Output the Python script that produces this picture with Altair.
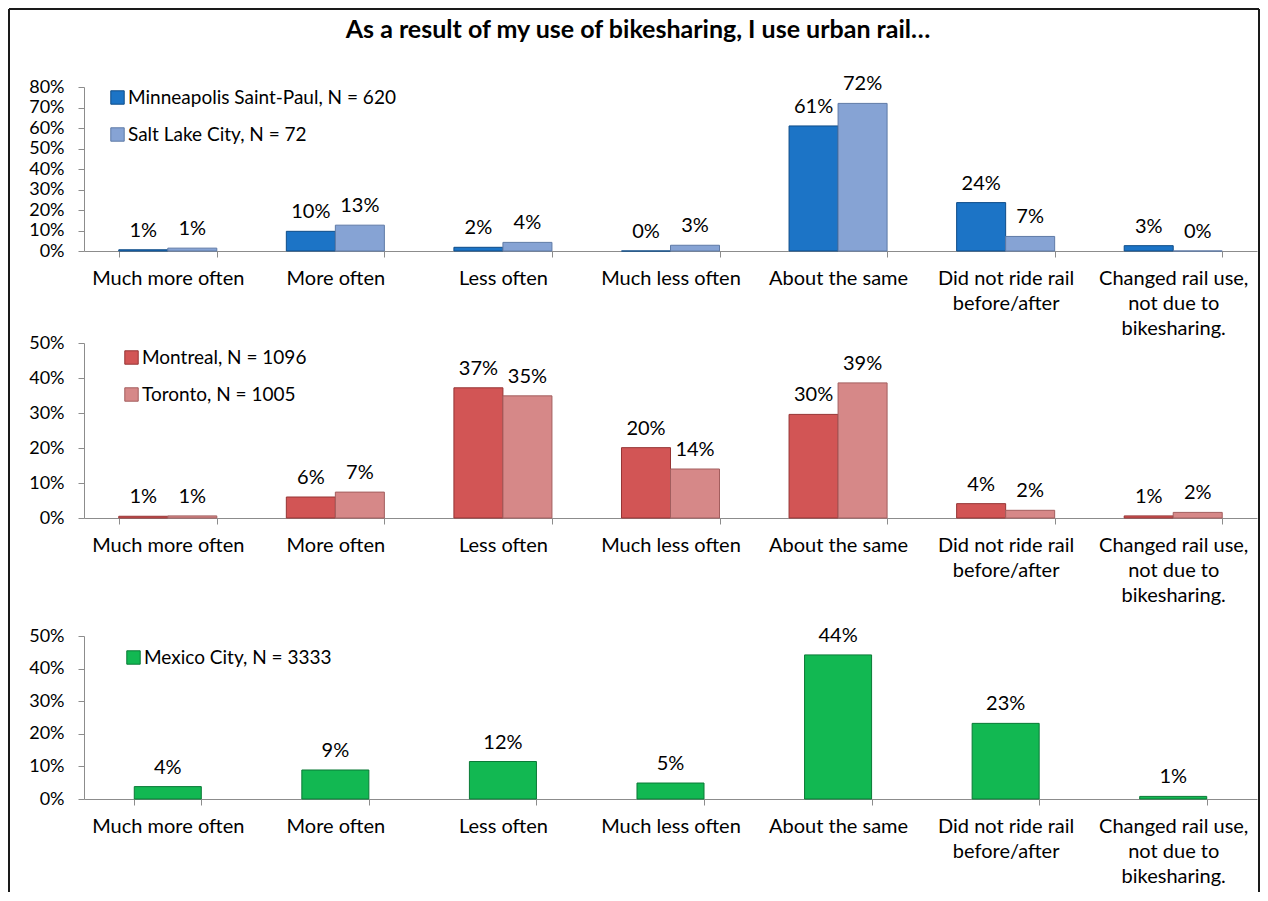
import altair as alt
import pandas as pd

FONT = "Lato"

categories = [
    "Much more often",
    "More often",
    "Less often",
    "Much less often",
    "About the same",
    "Did not ride rail|before/after",
    "Changed rail use,|not due to|bikesharing.",
]

title_text = "As a result of my use of bikesharing, I use urban rail…"

# Panel 1
p1_series = ["Minneapolis Saint-Paul, N = 620", "Salt Lake City, N = 72"]
minneapolis = [0.6, 9.6, 1.8, 0.0, 61.0, 23.6, 2.6]
salt_lake = [1.4, 12.6, 4.2, 2.8, 72.0, 7.1, 0.0]
p1_colors = ["#1C74C6", "#86A3D4"]
p1_strokes = ["#0E4C88", "#5E7AA6"]

# Panel 2
p2_series = ["Montreal, N = 1096", "Toronto, N = 1005"]
montreal = [0.5, 6.0, 37.2, 20.1, 29.6, 4.1, 0.6]
toronto = [0.6, 7.4, 34.9, 14.0, 38.6, 2.2, 1.6]
p2_colors = ["#D25555", "#D68888"]
p2_strokes = ["#963434", "#A35E5E"]

# Panel 3
p3_series = ["Mexico City, N = 3333"]
mexico = [3.8, 8.9, 11.5, 4.9, 44.2, 23.2, 0.8]
p3_colors = ["#12B852"]
p3_strokes = ["#0A7A36"]

PLOT_W = 1173


def long_df(series_names, series_values):
    rows = []
    for name, vals in zip(series_names, series_values):
        for cat, v in zip(categories, vals):
            rows.append({"category": cat, "series": name, "value": v})
    return pd.DataFrame(rows)


def panel(df, series, colors, strokes, ymax, height, plot_h, pad_inner,
          legend_x, legend_y, extra_layers=()):
    x = alt.X(
        "category:N",
        sort=categories,
        scale=alt.Scale(paddingInner=pad_inner, paddingOuter=pad_inner / 2),
        axis=alt.Axis(
            title=None,
            labelAngle=0,
            labelExpr="split(datum.label, '|')",
            labelLineHeight=25,
            labelBaseline="top",
            labelPadding=11,
            tickBand="extent",
            tickSize=6,
            offset=plot_h - height,
            labelFontSize=20,
        ),
    )
    y = alt.Y(
        "value:Q",
        scale=alt.Scale(domain=[0, ymax], nice=False, range=[plot_h, 0]),
        axis=alt.Axis(
            title=None,
            values=list(range(0, ymax + 1, 10)),
            labelExpr="datum.value + '%'",
            tickSize=6,
            labelPadding=14,
            labelFontSize=18,
        ),
    )
    xo = alt.XOffset("series:N", sort=series, scale=alt.Scale(paddingInner=0, paddingOuter=0))
    bars = alt.Chart(df).mark_bar(strokeWidth=1).encode(
        x=x,
        xOffset=xo,
        y=y,
        color=alt.Color(
            "series:N",
            sort=series,
            scale=alt.Scale(domain=series, range=colors),
            legend=alt.Legend(
                title=None,
                orient="none",
                legendX=legend_x,
                legendY=legend_y,
                symbolType="square",
                symbolSize=180,
                symbolStrokeWidth=1,
                labelFontSize=19,
                labelFont=FONT,
                labelColor="#000000",
                labelOffset=1,
                labelLimit=0,
                rowPadding=17,
                padding=0,
            ),
        ),
        stroke=alt.Stroke(
            "series:N",
            sort=series,
            scale=alt.Scale(domain=series, range=strokes),
            legend=None,
        ),
    )
    labels = alt.Chart(df).transform_calculate(
        lbl="format(datum.value, '.0f') + '%'"
    ).mark_text(
        baseline="bottom", dy=-9, fontSize=20, font=FONT, color="#000000"
    ).encode(x=x, xOffset=xo, y=y, text="lbl:N")
    return alt.layer(bars, labels, *extra_layers).properties(width=PLOT_W, height=height)


one = pd.DataFrame({"t": [title_text]})
title_layer = alt.Chart(one).mark_text(
    fontSize=25, fontWeight="bold", font=FONT, color="#000000", align="center", baseline="middle"
).encode(x=alt.value(554), y=alt.value(-57), text="t:N")

BL, BR, BT, BB = -75, 1175, -78, 805
border_left = alt.Chart(one).mark_rule(color="#1a1a1a", strokeWidth=2).encode(
    x=alt.value(BL), y=alt.value(BT), y2=alt.value(BB))
border_top = alt.Chart(one).mark_rule(color="#1a1a1a", strokeWidth=2).encode(
    x=alt.value(BL), x2=alt.value(BR), y=alt.value(BT))
border_right = alt.Chart(one).mark_rule(color="#1a1a1a", strokeWidth=2).encode(
    x=alt.value(BR), y=alt.value(BT), y2=alt.value(BB))

p1 = panel(long_df(p1_series, [minneapolis, salt_lake]), p1_series, p1_colors, p1_strokes,
           80, 164, 164, 0.415, 24, 1,
           extra_layers=(title_layer, border_left, border_top, border_right))
p2 = panel(long_df(p2_series, [montreal, toronto]), p2_series, p2_colors, p2_strokes,
           50, 201, 175, 0.415, 38, 5)
p3 = panel(long_df(p3_series, [mexico]), p3_series, p3_colors, p3_strokes,
           50, 163, 163, 0.6, 40, 12)

chart = alt.vconcat(p1, p2, p3, spacing=92, bounds="flush").resolve_scale(
    x="independent", y="independent", color="independent", stroke="independent",
    xOffset="independent",
).properties(padding=0, background="#ffffff").configure_view(strokeWidth=0).configure_axis(
    labelFont=FONT,
    labelColor="#000000",
    domainColor="#8C8C8C",
    tickColor="#8C8C8C",
    grid=False,
)

chart.save("out.html", embed_options={"renderer": "svg", "actions": False})
